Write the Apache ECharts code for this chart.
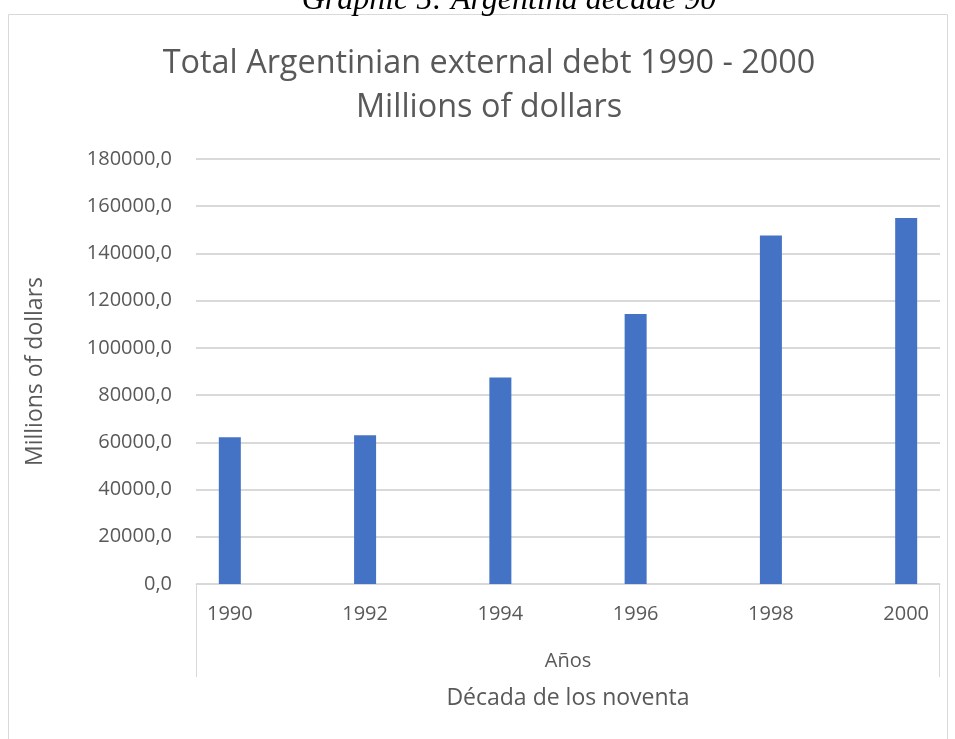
<!DOCTYPE html>
<html>
<head>
<meta charset="utf-8">
<script src="https://cdn.jsdelivr.net/npm/echarts@6/dist/echarts.min.js"></script>
<style>
html,body{margin:0;padding:0;background:#fff;}
#chart{width:955px;height:739px;}
</style>
</head>
<body>
<div id="chart"></div>
<script>
const years = [1990, 1992, 1994, 1996, 1998, 2000];
const debt = [62200, 63000, 87500, 114400, 147600, 155000];
const yTicks = { min: 0, max: 180000, interval: 20000 };
const xRange = { min: 1989.5, max: 2000.5 };
const titleLines = ['Total Argentinian external debt 1990 - 2000', 'Millions of dollars'];
const caption = 'Graphic 5: Argentina decade 90';
const yName = 'Millions of dollars';
const xName1 = 'Años';
const xName2 = 'Década de los noventa';

const FONT = '"Open Sans", sans-serif';
const TXT = '#595959';
const chart = echarts.init(document.getElementById('chart'));

const option = {
  animation: false,
  backgroundColor: '#fff',
  title: {
    text: titleLines.join('\n'),
    left: 484,
    textAlign: 'center',
    top: 37,
    textStyle: { fontFamily: FONT, fontSize: 32.4, fontWeight: 'normal', color: TXT, lineHeight: 44 }
  },
  grid: { left: 196, right: 15, top: 159, bottom: 155 },
  xAxis: [{
    type: 'value',
    min: xRange.min,
    max: xRange.max,
    splitLine: { show: false },
    axisLine: { show: true, onZero: false, lineStyle: { color: '#d9d9d9', width: 1 } },
    axisTick: { show: false },
    axisLabel: {
      color: TXT, fontFamily: FONT, fontSize: 20, margin: 20,
      customValues: years,
      formatter: v => String(v)
    },
    name: xName1,
    nameLocation: 'middle',
    nameGap: 67,
    nameTextStyle: { color: TXT, fontFamily: FONT, fontSize: 20 }
  }, {
    type: 'value',
    min: xRange.min,
    max: xRange.max,
    position: 'bottom',
    splitLine: { show: false },
    axisLine: { show: false },
    axisTick: { show: false },
    axisLabel: { show: false },
    name: xName2,
    nameLocation: 'middle',
    nameGap: 103,
    nameTextStyle: { color: TXT, fontFamily: FONT, fontSize: 23 }
  }],
  yAxis: {
    type: 'value',
    min: yTicks.min,
    max: yTicks.max,
    interval: yTicks.interval,
    axisLine: { show: false },
    axisTick: { show: false },
    splitLine: { lineStyle: { color: '#d9d9d9', width: 2 } },
    axisLabel: {
      color: TXT, fontFamily: FONT, fontSize: 20, margin: 24,
      formatter: v => v.toFixed(1).replace('.', ',')
    },
    name: yName,
    nameLocation: 'middle',
    nameGap: 149,
    nameRotate: 90,
    nameTextStyle: { color: TXT, fontFamily: FONT, fontSize: 23 }
  },
  series: [{
    type: 'bar',
    xAxisIndex: 0,
    data: years.map((y, i) => [y, debt[i]]),
    barWidth: 22,
    itemStyle: { color: '#4472C4' }
  }]
};
chart.setOption(option);

// decorations: outer chart border, caption, category box side lines
const x0 = chart.convertToPixel({ xAxisIndex: 0 }, xRange.min);
const x1 = chart.convertToPixel({ xAxisIndex: 0 }, xRange.max);
const y0 = chart.convertToPixel({ yAxisIndex: 0 }, 0);
chart.setOption({
  graphic: [
    { type: 'rect', shape: { x: 8.5, y: 14.5, width: 939, height: 740 }, style: { fill: 'none', stroke: '#d9d9d9', lineWidth: 1 }, silent: true },
    { type: 'line', shape: { x1: Math.round(x0) + 0.5, y1: y0, x2: Math.round(x0) + 0.5, y2: y0 + 93 }, style: { stroke: '#d9d9d9', lineWidth: 1 } },
    { type: 'line', shape: { x1: Math.round(x1) - 0.5, y1: y0, x2: Math.round(x1) - 0.5, y2: y0 + 93 }, style: { stroke: '#d9d9d9', lineWidth: 1 } },
    { type: 'text', x: 509, y: 17, style: { text: caption, fill: '#000', font: 'italic 32px "Liberation Serif", "DejaVu Serif", serif', textAlign: 'center', textVerticalAlign: 'bottom' } }
  ]
});
</script>
</body>
</html>
